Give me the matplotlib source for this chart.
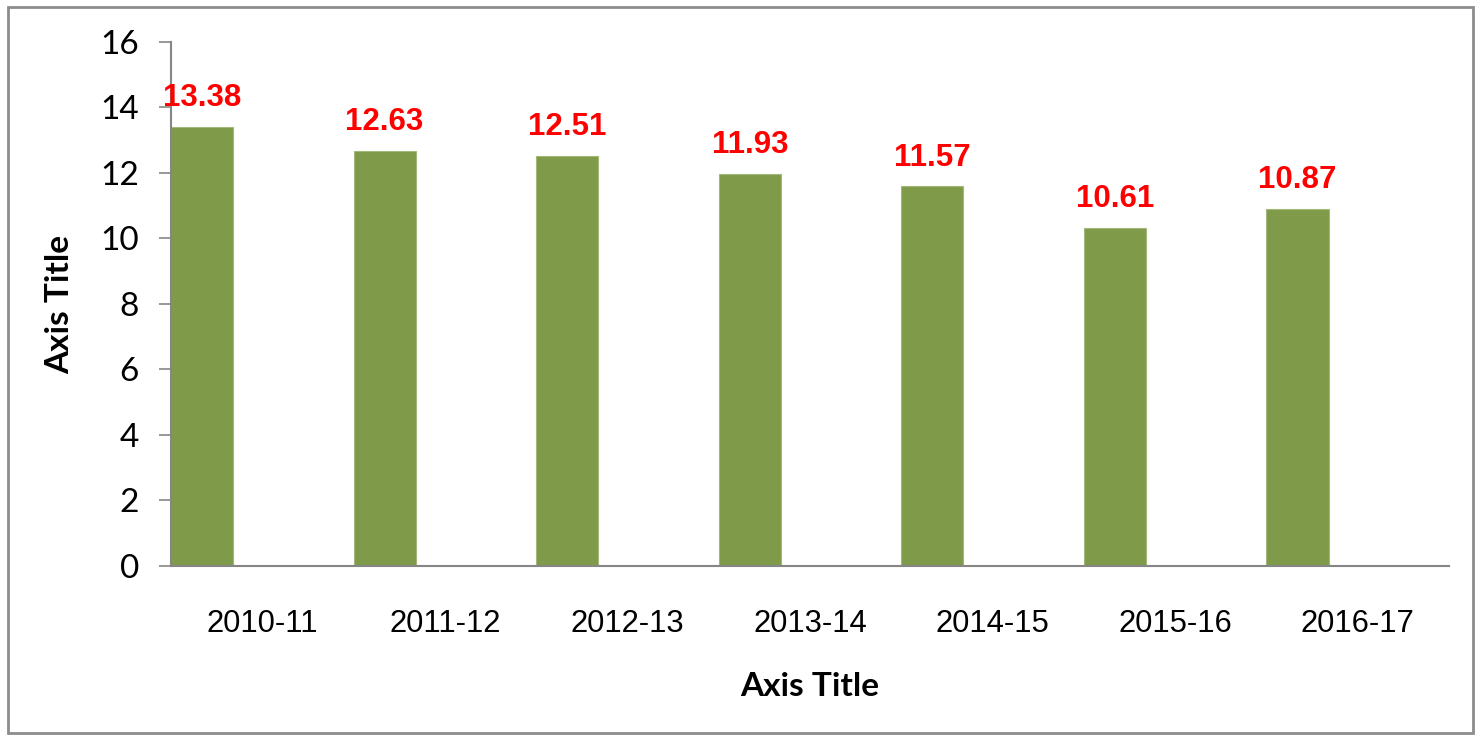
import matplotlib.pyplot as plt
from matplotlib.patches import Rectangle

# data
years = ['2010-11', '2011-12', '2012-13', '2013-14', '2014-15', '2015-16', '2016-17']
bar_values = [13.38, 12.65, 12.51, 11.95, 11.58, 10.31, 10.89]
bar_labels = ['13.38', '12.63', '12.51', '11.93', '11.57', '10.61', '10.87']

narrow = ['Liberation Sans', 'DejaVu Sans']

fig = plt.figure(figsize=(14.84, 7.43), dpi=100)
ax = fig.add_axes([171/1484, 1 - 566/743, (1449-171)/1484, (566-41.5)/743])

x = range(len(years))
ax.bar(x, bar_values, width=0.34, align='edge', color='#7f9a48', edgecolor='#a3b87a', linewidth=0.8)

for i, (v, lab) in enumerate(zip(bar_values, bar_labels)):
    ax.annotate(lab, (i + 0.17, v), xytext=(0, 10), textcoords='offset points',
                ha='center', va='bottom', color='red', fontsize=22.5, fontweight='bold',
                family=narrow)

ax.set_xlim(0, len(years))
ax.set_ylim(0, 16)
ax.set_yticks(range(0, 17, 2))
ax.set_xticks([i + 0.5 for i in x])
ax.set_xticklabels(years, family=narrow, fontsize=22.3)
for t in ax.get_yticklabels():
    t.set_family(['Lato', 'DejaVu Sans'])
    t.set_fontsize(24)

ax.tick_params(axis='x', length=0, pad=31)
ax.tick_params(axis='y', length=9, width=1.2, color='#868686', pad=14)

for s in ['top', 'right']:
    ax.spines[s].set_visible(False)
for s in ['left', 'bottom']:
    ax.spines[s].set_color('#868686')
    ax.spines[s].set_linewidth(1.5)

fig.text(810/1484, 1 - 686/743, 'Axis Title', ha='center', va='center',
         fontsize=24, fontweight='bold', family=['Lato', 'DejaVu Sans'])
fig.text(60/1484, 1 - 304/743, 'Axis Title', ha='center', va='center', rotation=90,
         fontsize=24, fontweight='bold', family=['Lato', 'DejaVu Sans'])

fig.patches.append(Rectangle((8/1484, 1 - 733/743), (1473-8)/1484, (733-7)/743,
                             transform=fig.transFigure, fill=False,
                             edgecolor='#8c8c8c', linewidth=2))

fig.savefig('out.png', dpi=100)
